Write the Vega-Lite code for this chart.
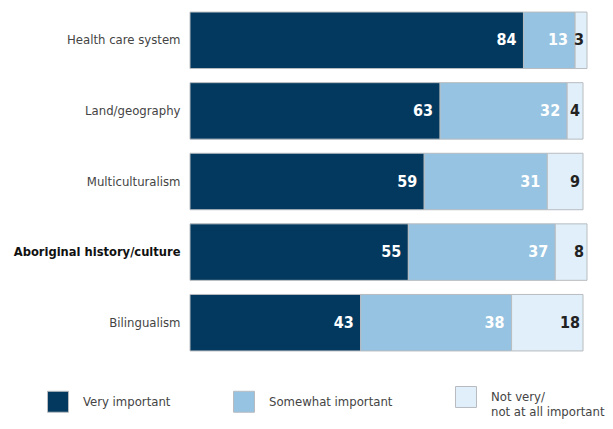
{
  "$schema": "https://vega.github.io/schema/vega-lite/v6.json",
  "width": 397,
  "height": 353,
  "autosize": {"type": "none"},
  "padding": {"left": 190, "top": 5, "right": 26, "bottom": 71},
  "background": "white",
  "config": {
    "view": {"stroke": null},
    "font": "DejaVu Sans Condensed, Liberation Sans Narrow, Liberation Sans"
  },
  "data": {
    "values": [
      {"category": "Health care system", "response": "Very important", "order": 1, "value": 84},
      {"category": "Health care system", "response": "Somewhat important", "order": 2, "value": 13},
      {"category": "Health care system", "response": "Not very/|not at all important", "order": 3, "value": 3},
      {"category": "Land/geography", "response": "Very important", "order": 1, "value": 63},
      {"category": "Land/geography", "response": "Somewhat important", "order": 2, "value": 32},
      {"category": "Land/geography", "response": "Not very/|not at all important", "order": 3, "value": 4},
      {"category": "Multiculturalism", "response": "Very important", "order": 1, "value": 59},
      {"category": "Multiculturalism", "response": "Somewhat important", "order": 2, "value": 31},
      {"category": "Multiculturalism", "response": "Not very/|not at all important", "order": 3, "value": 9},
      {"category": "Aboriginal history/culture", "response": "Very important", "order": 1, "value": 55},
      {"category": "Aboriginal history/culture", "response": "Somewhat important", "order": 2, "value": 37},
      {"category": "Aboriginal history/culture", "response": "Not very/|not at all important", "order": 3, "value": 8},
      {"category": "Bilingualism", "response": "Very important", "order": 1, "value": 43},
      {"category": "Bilingualism", "response": "Somewhat important", "order": 2, "value": 38},
      {"category": "Bilingualism", "response": "Not very/|not at all important", "order": 3, "value": 18}
    ]
  },
  "transform": [
    {"stack": "value", "groupby": ["category"], "sort": [{"field": "order"}], "as": ["x0", "x1"]}
  ],
  "encoding": {
    "y": {
      "field": "category",
      "type": "nominal",
      "sort": ["Health care system", "Land/geography", "Multiculturalism", "Aboriginal history/culture", "Bilingualism"],
      "scale": {"paddingInner": 0.2, "paddingOuter": 0.1},
      "axis": {
        "title": null,
        "domain": false,
        "ticks": false,
        "labelPadding": 10,
        "labelFontSize": {"condition": {"test": "datum.value == 'Aboriginal history/culture'", "value": 12.8}, "value": 13},
        "labelColor": {"condition": {"test": "datum.value == 'Aboriginal history/culture'", "value": "#111111"}, "value": "#444444"},
        "labelFontWeight": {"condition": {"test": "datum.value == 'Aboriginal history/culture'", "value": "bold"}, "value": "normal"},
        "labelLimit": 250
      }
    }
  },
  "layer": [
    {
      "mark": {"type": "bar", "stroke": "#b8bcc0", "strokeWidth": 1},
      "encoding": {
        "x": {"field": "x0", "type": "quantitative", "scale": {"domain": [0, 100]}, "axis": null},
        "x2": {"field": "x1"},
        "color": {
          "field": "response",
          "type": "nominal",
          "sort": ["Very important", "Somewhat important", "Not very/|not at all important"],
          "scale": {
            "domain": ["Very important", "Somewhat important", "Not very/|not at all important"],
            "range": ["#03395e", "#95c3e1", "#e0eff9"]
          },
          "legend": {
            "title": null,
            "orient": "none",
            "direction": "horizontal",
            "columns": 3,
            "legendX": -143,
            "legendY": 381,
            "symbolType": "square",
            "symbolSize": 440,
            "symbolStrokeColor": "#b8bcc0",
            "symbolStrokeWidth": 1,
            "labelFontSize": 13,
            "labelColor": "#444444",
            "labelOffset": 14,
            "columnPadding": 60,
            "labelLimit": 200,
            "labelExpr": "split(datum.label, '|')"
          }
        }
      }
    },
    {
      "transform": [{"filter": "datum.order < 3"}],
      "mark": {"type": "text", "align": "right", "baseline": "middle", "dx": -7, "fontSize": 16, "fontWeight": "bold", "color": "#ffffff"},
      "encoding": {
        "x": {"field": "x1", "type": "quantitative"},
        "text": {"field": "value", "type": "quantitative"}
      }
    },
    {
      "transform": [{"filter": "datum.order == 3"}],
      "mark": {"type": "text", "align": "right", "baseline": "middle", "dx": -3, "fontSize": 16, "fontWeight": "bold", "color": "#222222"},
      "encoding": {
        "x": {"field": "x1", "type": "quantitative"},
        "text": {"field": "value", "type": "quantitative"}
      }
    }
  ]
}
